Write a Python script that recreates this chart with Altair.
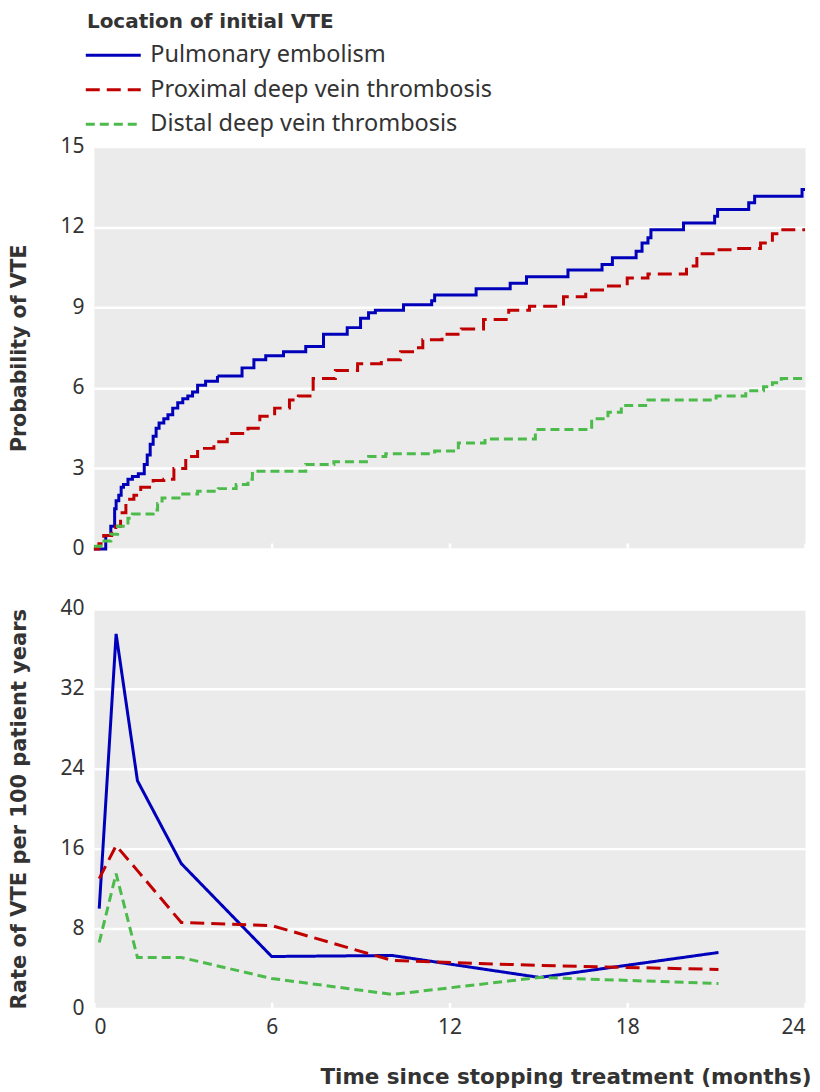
import altair as alt
import pandas as pd

SERIES = ["Pulmonary embolism", "Proximal deep vein thrombosis", "Distal deep vein thrombosis"]
COLORS = ["#0000bb", "#c00000", "#4cbb4c"]
DASHES = [[1, 0], [14, 7], [9, 5]]

# Cumulative probability (step curves): time in months, probability %
pe_t = [0, 0.4, 0.57, 0.7, 0.75, 0.84, 0.92, 1.0, 1.15, 1.3, 1.5, 1.7, 1.8, 1.9, 2.0, 2.1, 2.2,
        2.36, 2.5, 2.66, 2.83, 3.0, 3.17, 3.33, 3.5, 3.77, 4.17, 5.0, 5.4, 5.8, 6.4, 7.15, 7.75,
        8.55, 9.0, 9.27, 9.5, 10.45, 11.4, 11.5, 12.9, 14.05, 14.6, 16.0, 17.15, 17.5, 18.3, 18.5,
        18.7, 18.8, 19.9, 20.95, 21.05, 22.1, 22.3, 23.9, 24]
pe_p = [0, 0.5, 0.85, 1.5, 1.8, 2.0, 2.3, 2.4, 2.6, 2.7, 2.8, 3.15, 3.5, 3.9, 4.2, 4.5, 4.7,
        4.85, 5.0, 5.25, 5.45, 5.6, 5.7, 5.85, 6.1, 6.25, 6.45, 6.75, 7.05, 7.2, 7.35, 7.55, 8.0,
        8.25, 8.6, 8.8, 8.9, 9.1, 9.25, 9.47, 9.7, 9.9, 10.15, 10.4, 10.6, 10.85, 11.1, 11.4,
        11.6, 11.9, 12.15, 12.4, 12.65, 12.9, 13.15, 13.4, 13.4]

pdvt_t = [0, 0.17, 0.33, 0.6, 0.74, 0.9, 1.08, 1.35, 1.58, 2.0, 2.36, 2.7, 3.1, 3.5, 4.05, 4.5,
          5.2, 5.6, 6.1, 6.6, 6.9, 7.4, 8.15, 8.9, 9.7, 10.35, 10.85, 11.1, 11.75, 12.4, 13.15,
          14.0, 14.7, 15.85, 16.6, 17.3, 18.0, 18.7, 20.0, 20.35, 21.1, 21.7, 22.5, 22.9, 23.2, 24]
pdvt_p = [0, 0.2, 0.5, 0.7, 0.85, 1.35, 1.85, 2.0, 2.3, 2.55, 2.6, 3.0, 3.45, 3.75, 4.0, 4.3,
          4.5, 4.95, 5.25, 5.55, 5.7, 6.35, 6.65, 6.9, 7.05, 7.35, 7.5, 7.8, 8.0, 8.2, 8.55,
          8.9, 9.05, 9.4, 9.65, 9.8, 10.1, 10.25, 10.55, 11.0, 11.15, 11.2, 11.4, 11.75, 11.9, 11.9]

ddvt_t = [0, 0.24, 0.57, 0.8, 1.15, 1.3, 2.0, 2.15, 2.3, 3.0, 3.5, 4.2, 4.8, 5.2, 5.35, 7.15,
          8.1, 9.27, 9.85, 11.5, 12.3, 13.2, 14.9, 16.8, 17.35, 17.8, 18.7, 21.0, 22.0, 22.6,
          22.9, 23.2, 24]
ddvt_p = [0.1, 0.3, 0.55, 0.85, 1.15, 1.3, 1.45, 1.7, 1.9, 2.05, 2.15, 2.25, 2.4, 2.6, 2.9, 3.15,
          3.25, 3.45, 3.55, 3.65, 3.95, 4.1, 4.45, 4.85, 5.1, 5.35, 5.55, 5.7, 5.9, 6.05,
          6.2, 6.35, 6.35]

# Rate of VTE per 100 patient years
rate_t = [0.18, 0.75, 1.47, 2.95, 6.0, 10.07, 15.04, 21.08]
pe_rate = [10.0, 37.5, 22.8, 14.5, 5.2, 5.3, 3.1, 5.6]
pdvt_rate = [13.0, 16.3, 13.8, 8.6, 8.3, 4.8, 4.3, 3.9]
ddvt_rate = [6.6, 13.5, 5.1, 5.1, 3.0, 1.4, 3.1, 2.5]

cum_rows = []
for name, ts, ps in zip(SERIES, [pe_t, pdvt_t, ddvt_t], [pe_p, pdvt_p, ddvt_p]):
    for t, p in zip(ts, ps):
        cum_rows.append({"series": name, "t": t, "p": p})
cum_df = pd.DataFrame(cum_rows)

rate_rows = []
for name, rs in zip(SERIES, [pe_rate, pdvt_rate, ddvt_rate]):
    for t, r in zip(rate_t, rs):
        rate_rows.append({"series": name, "t": t, "r": r})
rate_df = pd.DataFrame(rate_rows)

TITLE_FONT = "DejaVu Sans"
LABEL_FONT = "Noto Sans"
TXT = "#333333"

legend = alt.Legend(
    title="Location of initial VTE",
    orient="none",
    legendX=-7,
    legendY=-135,
    direction="vertical",
    titleFont=TITLE_FONT,
    titleFontSize=20,
    titleFontWeight="bold",
    titleColor=TXT,
    titlePadding=12,
    titleLimit=600,
    labelFont=LABEL_FONT,
    labelFontSize=23.5,
    labelColor=TXT,
    labelLimit=600,
    symbolType="M-1.865,0H6.12",
    symbolSize=190,
    symbolStrokeWidth=3,
    labelOffset=40,
    rowPadding=9.5,
)

color = alt.Color("series:N", scale=alt.Scale(domain=SERIES, range=COLORS), legend=legend)
dash = alt.StrokeDash("series:N", scale=alt.Scale(domain=SERIES, range=DASHES), legend=legend)

xscale = alt.Scale(domain=[0, 24], nice=False)

upper = alt.Chart(cum_df).mark_line(interpolate="step-after", strokeWidth=3).encode(
    x=alt.X("t:Q", scale=xscale,
            axis=alt.Axis(values=[0, 6, 12, 18, 24], labels=False, title=None, grid=False,
                          domain=False, ticks=True, tickColor="white", tickWidth=2.5,
                          tickSize=6, offset=-6)),
    y=alt.Y("p:Q", scale=alt.Scale(domain=[0, 15], nice=False),
            axis=alt.Axis(values=[0, 3, 6, 9, 12, 15], title="Probability of VTE",
                          titleFontSize=20.5)),
    color=color,
    strokeDash=dash,
).properties(width=712, height=403)

lower = alt.Chart(rate_df).mark_line(strokeWidth=3).encode(
    x=alt.X("t:Q", scale=xscale,
            axis=alt.Axis(values=[0, 6, 12, 18, 24], title="Time since stopping treatment (months)",
                          grid=False, domain=False, ticks=True, tickColor="white", tickWidth=2.5,
                          tickSize=6, offset=-6, labelPadding=8,
                          titleAlign="right", titleAnchor="end", titleX=718, titleY=81,
                          titleBaseline="alphabetic", titleFontSize=21.5, titleLimit=800)),
    y=alt.Y("r:Q", scale=alt.Scale(domain=[0, 40], nice=False),
            axis=alt.Axis(values=[0, 8, 16, 24, 32, 40], title="Rate of VTE per 100 patient years",
                          titleFontSize=21)),
    color=color,
    strokeDash=dash,
).properties(width=712, height=400)

chart = alt.vconcat(upper, lower, spacing=37).configure(
    padding={"top": 3, "left": 0, "right": 0, "bottom": 0},
).configure_view(
    fill="#ebebeb", stroke="transparent"
).configure_axis(
    labelFont=LABEL_FONT,
    labelFontSize=21,
    labelColor=TXT,
    titleFont=TITLE_FONT,
    titleFontSize=20,
    titleFontWeight="bold",
    titleColor=TXT,
    titleLimit=800,
    gridColor="white",
    gridWidth=2.5,
    domain=False,
).configure_axisY(
    ticks=False,
    labelPadding=10,
    titlePadding=30,
)

chart.save("out.html", embed_options={"renderer": "svg", "actions": False})
